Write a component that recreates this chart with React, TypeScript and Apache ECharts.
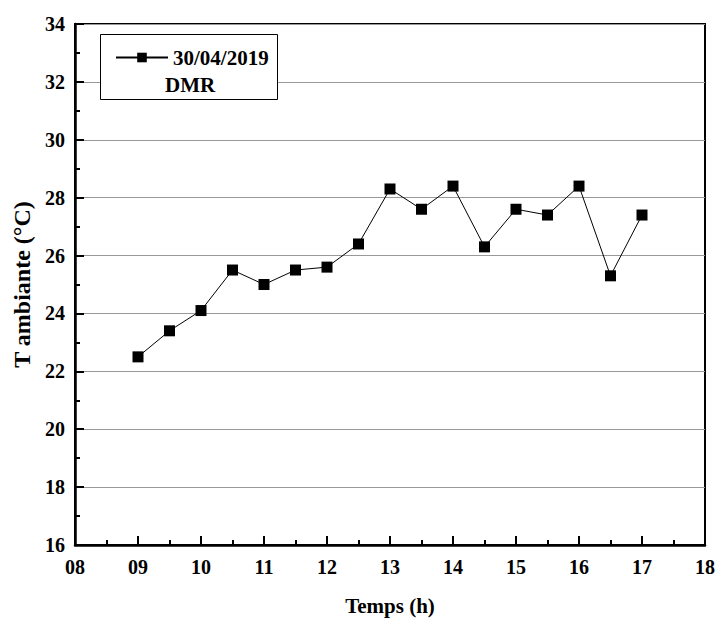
import React, { useEffect, useRef } from "react";
import * as echarts from "echarts";

const times = [9, 9.5, 10, 10.5, 11, 11.5, 12, 12.5, 13, 13.5, 14, 14.5, 15, 15.5, 16, 16.5, 17];
const temps = [22.5, 23.4, 24.1, 25.5, 25.0, 25.5, 25.6, 26.4, 28.3, 27.6, 28.4, 26.3, 27.6, 27.4, 28.4, 25.3, 27.4];
const seriesName = "30/04/2019";
const subtitle = "DMR";
const xTitle = "Temps (h)";
const yTitle = "T ambiante (°C)";

const FONT = "'Liberation Serif', 'Times New Roman', serif";

export default function App() {
  const ref = useRef<HTMLDivElement>(null);
  useEffect(() => {
    if (!ref.current) return;
    const chart = echarts.init(ref.current, null, { renderer: "svg" });
    const data = times.map((t, i) => [t, temps[i]]);
    chart.setOption({
      animation: false,
      backgroundColor: "#fff",
      grid: {
        left: 75,
        top: 24,
        right: 11,
        bottom: 74,
        show: true,
        borderColor: "#000",
        borderWidth: 2,
      },
      legend: {
        left: 110,
        top: 42,
        itemWidth: 52,
        itemHeight: 12,
        itemGap: 4,
        data: [{ name: seriesName }],
        textStyle: {
          fontFamily: FONT,
          fontWeight: "bold",
          fontSize: 21,
          color: "#000",
        },
      },
      graphic: [
        {
          type: "rect",
          left: 100,
          top: 34,
          shape: { x: 0, y: 0, width: 177, height: 65 },
          style: { fill: "#fff", stroke: "#000", lineWidth: 1 },
          z: 1,
        },
        {
          type: "text",
          left: 165,
          top: 74,
          style: {
            text: subtitle,
            fontFamily: FONT,
            fontWeight: "bold",
            fontSize: 21,
            fill: "#000",
          },
          z: 10,
        },
      ],
      xAxis: {
        type: "value",
        min: 8,
        max: 18,
        interval: 1,
        name: xTitle,
        nameLocation: "middle",
        nameGap: 50,
        nameTextStyle: { fontFamily: FONT, fontWeight: "bold", fontSize: 21, color: "#000" },
        axisLine: { show: true, lineStyle: { color: "#000", width: 2.5 } },
        axisTick: { show: true, inside: true, length: 9, lineStyle: { color: "#000", width: 2 } },
        minorTick: { show: true, splitNumber: 2, length: 5, lineStyle: { color: "#000", width: 2 } },
        splitLine: { show: false },
        axisLabel: {
          fontFamily: FONT,
          fontWeight: "bold",
          fontSize: 20,
          color: "#000",
          margin: 12,
          formatter: (v: number) => String(v).padStart(2, "0"),
        },
      },
      yAxis: {
        type: "value",
        min: 16,
        max: 34,
        interval: 2,
        name: yTitle,
        nameLocation: "middle",
        nameGap: 40,
        nameTextStyle: { fontFamily: FONT, fontWeight: "bold", fontSize: 24, color: "#000" },
        axisLine: { show: true, lineStyle: { color: "#000", width: 2.5 } },
        axisTick: { show: true, inside: true, length: 9, lineStyle: { color: "#000", width: 2 } },
        minorTick: { show: true, splitNumber: 2, length: 5, lineStyle: { color: "#000", width: 2 } },
        splitLine: { show: true, lineStyle: { color: "#999", width: 1 } },
        axisLabel: {
          fontFamily: FONT,
          fontWeight: "bold",
          fontSize: 20,
          color: "#000",
          margin: 10,
        },
      },
      series: [
        {
          name: seriesName,
          type: "line",
          data,
          symbol: "rect",
          symbolSize: 11,
          itemStyle: { color: "#000" },
          lineStyle: { color: "#000", width: 1 },
          z: 3,
        },
      ],
    });
    return () => chart.dispose();
  }, []);
  return (
    <div
      ref={ref}
      style={{ position: "absolute", left: 0, top: 0, width: 718, height: 621 }}
    />
  );
}
